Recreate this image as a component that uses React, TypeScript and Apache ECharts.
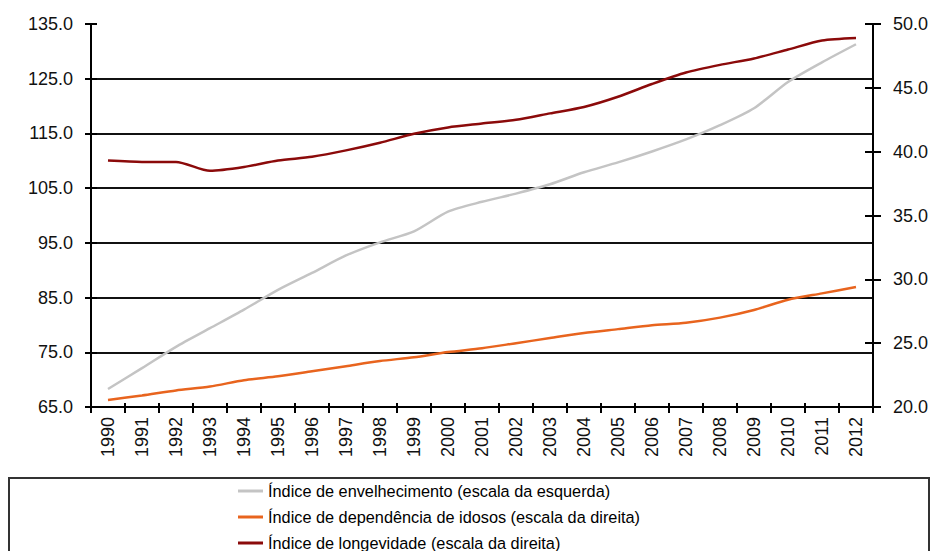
import React, { useEffect, useRef } from "react";
import * as echarts from "echarts";

const years = [
  "1990", "1991", "1992", "1993", "1994", "1995", "1996", "1997", "1998", "1999", "2000", "2001",
  "2002", "2003", "2004", "2005", "2006", "2007", "2008", "2009", "2010", "2011", "2012",
];

const envelhecimento = [
  68.3, 72.1, 76.0, 79.4, 82.8, 86.4, 89.5, 92.7, 95.1, 97.1, 100.7, 102.5,
  104.0, 105.7, 107.9, 109.7, 111.7, 113.9, 116.5, 119.6, 124.4, 128.0, 131.3,
];

const dependencia = [
  20.55, 20.9, 21.3, 21.6, 22.1, 22.4, 22.8, 23.2, 23.6, 23.9, 24.3, 24.6,
  25.0, 25.4, 25.8, 26.1, 26.4, 26.6, 27.0, 27.6, 28.4, 28.9, 29.4,
];

const longevidade = [
  39.3, 39.2, 39.2, 38.5, 38.8, 39.3, 39.6, 40.1, 40.7, 41.4, 41.9, 42.2,
  42.5, 43.0, 43.5, 44.3, 45.3, 46.2, 46.8, 47.3, 48.0, 48.7, 48.9,
];

const seriesNames = [
  "Índice de envelhecimento (escala da esquerda)",
  "Índice de dependência de idosos (escala da direita)",
  "Índice de longevidade (escala da direita)",
];

const FONT = "Liberation Sans, Arial, sans-serif";
const AX = "#000";

export default function App() {
  const ref = useRef<HTMLDivElement>(null);
  useEffect(() => {
    if (!ref.current) return;
    const chart = echarts.init(ref.current, null, { renderer: "svg" });
    const labelStyle = { fontFamily: FONT, fontSize: 18, color: "#111" };
    chart.setOption({
      animation: false,
      backgroundColor: "#fff",
      textStyle: { fontFamily: FONT },
      grid: { left: 91, right: 70, top: 24, bottom: 144, containLabel: false },
      legend: {
        orient: "vertical",
        left: 238,
        top: 483,
        itemWidth: 25,
        itemHeight: 3,
        itemGap: 10,
        icon: "rect",
        padding: 0,
        textStyle: { fontFamily: FONT, fontSize: 16.3, color: "#000" },
        data: seriesNames,
      },
      graphic: [
        {
          type: "rect",
          shape: { x: 9, y: 478, width: 920, height: 100 },
          style: { fill: "none", stroke: "#333", lineWidth: 2 },
          silent: true,
        },
      ],
      xAxis: [
        {
          type: "category",
          data: years,
          position: "bottom",
          boundaryGap: true,
          axisLine: { show: true, lineStyle: { color: AX, width: 2 } },
          axisTick: { show: true, inside: false, length: 6, interval: 0, lineStyle: { color: AX, width: 2 } },
          axisLabel: { ...labelStyle, rotate: 90, interval: 0, margin: 10 },
          splitLine: { show: false },
        },
        {
          type: "category",
          data: years,
          position: "bottom",
          boundaryGap: true,
          axisLine: { show: false },
          axisTick: { show: true, inside: true, length: 4, interval: 0, lineStyle: { color: AX, width: 2 } },
          axisLabel: { show: false },
          splitLine: { show: false },
        },
      ],
      yAxis: [
        {
          type: "value",
          position: "left",
          min: 65,
          max: 135,
          interval: 10,
          axisLine: { show: true, lineStyle: { color: AX, width: 2 } },
          axisTick: { show: true, inside: false, length: 6, lineStyle: { color: AX, width: 2 } },
          axisLabel: { ...labelStyle, margin: 18, formatter: (v: number) => v.toFixed(1) },
          splitLine: {
            show: true,
            showMinLine: false,
            showMaxLine: false,
            lineStyle: { color: "#111", width: 1.8 },
          },
        },
        {
          type: "value",
          position: "right",
          min: 20,
          max: 50,
          interval: 5,
          axisLine: { show: true, lineStyle: { color: AX, width: 2 } },
          axisTick: { show: true, inside: false, length: 8, lineStyle: { color: AX, width: 2 } },
          axisLabel: { ...labelStyle, margin: 20, formatter: (v: number) => v.toFixed(1) },
          splitLine: { show: false },
        },
        {
          type: "value",
          position: "left",
          min: 65,
          max: 135,
          interval: 10,
          axisLine: { show: false },
          axisTick: { show: true, inside: true, length: 6, lineStyle: { color: AX, width: 2 } },
          axisLabel: { show: false },
          splitLine: { show: false },
        },
        {
          type: "value",
          position: "right",
          min: 20,
          max: 50,
          interval: 5,
          axisLine: { show: false },
          axisTick: { show: true, inside: true, length: 8, lineStyle: { color: AX, width: 2 } },
          axisLabel: { show: false },
          splitLine: { show: false },
        },
      ],
      series: [
        {
          name: seriesNames[0],
          type: "line",
          yAxisIndex: 0,
          data: envelhecimento,
          smooth: 0.25,
          showSymbol: false,
          color: "#C4C4C4",
          lineStyle: { color: "#C4C4C4", width: 2.5 },
          z: 3,
        },
        {
          name: seriesNames[1],
          type: "line",
          yAxisIndex: 1,
          data: dependencia,
          smooth: 0.25,
          showSymbol: false,
          color: "#E8641E",
          lineStyle: { color: "#E8641E", width: 2.5 },
          z: 4,
        },
        {
          name: seriesNames[2],
          type: "line",
          yAxisIndex: 1,
          data: longevidade,
          smooth: 0.25,
          showSymbol: false,
          color: "#8B0A0A",
          lineStyle: { color: "#8B0A0A", width: 2.5 },
          z: 5,
        },
      ],
    });
    return () => chart.dispose();
  }, []);
  return (
    <div
      ref={ref}
      style={{ position: "fixed", left: 0, top: 0, width: 943, height: 551, background: "#fff" }}
    />
  );
}
